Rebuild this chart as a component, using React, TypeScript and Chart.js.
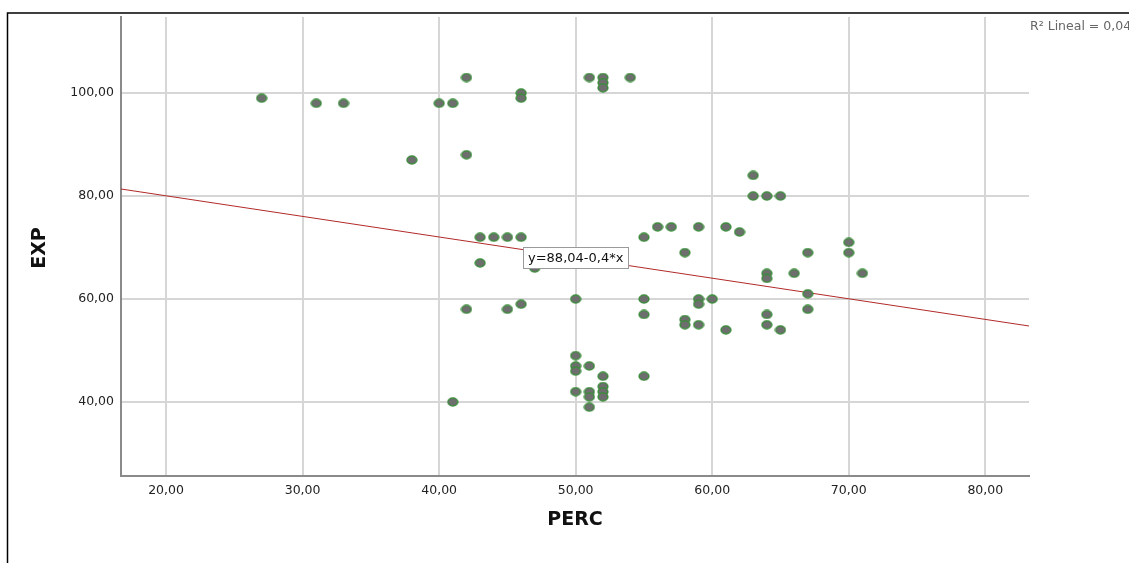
import React, { useEffect, useRef } from "react";
import { Chart, registerables } from "chart.js";

Chart.register(...registerables);

// PERC (x) and EXP (y) values of each case
const percValues = [
  27, 31, 33, 38, 40, 41, 42, 42, 46, 46, 51, 52, 52, 52, 54,
  63, 63, 64, 65, 55, 56, 57, 59, 61, 62, 58, 67, 70, 70, 64,
  64, 66, 71, 43, 44, 45, 46, 43, 47, 42, 45, 46, 50, 55, 55,
  59, 59, 60, 58, 58, 59, 61, 50, 50, 50, 51, 52, 55, 50, 51,
  51, 52, 52, 52, 51, 41, 67, 64, 67, 64, 65,
];
const expValues = [
  99, 98, 98, 87, 98, 98, 103, 88, 100, 99, 103, 103, 102, 101, 103,
  84, 80, 80, 80, 72, 74, 74, 74, 74, 73, 69, 69, 71, 69, 65,
  64, 65, 65, 72, 72, 72, 72, 67, 66, 58, 58, 59, 60, 60, 57,
  60, 59, 60, 56, 55, 55, 54, 49, 47, 46, 47, 45, 45, 42, 42,
  41, 43, 42, 41, 39, 40, 61, 57, 58, 55, 54,
];

// Linear fit (as printed on the chart)
const fitIntercept = 88.04;
const fitSlope = -0.4;
const fitLabel = "y=88,04-0,4*x";
const r2Label = "R² Lineal = 0,04";

// Axis ranges and tick values
const xRange = [16.7, 83.2];
const yRange = [25.63, 114.76];
const xTickValues = [20, 30, 40, 50, 60, 70, 80];
const yTickValues = [40, 60, 80, 100];
const xTitle = "PERC";
const yTitle = "EXP";

const fmt = (v: number) => v.toFixed(2).replace(".", ",");

function makeMarker(): HTMLCanvasElement {
  const c = document.createElement("canvas");
  c.width = 12;
  c.height = 10;
  const ctx = c.getContext("2d")!;
  ctx.beginPath();
  ctx.ellipse(6, 5, 4.9, 3.9, 0, 0, Math.PI * 2);
  ctx.fillStyle = "#6e6e6e";
  ctx.fill();
  ctx.lineWidth = 1.5;
  ctx.strokeStyle = "#3c8c3c";
  ctx.stroke();
  return c;
}

export default function App() {
  const ref = useRef<HTMLCanvasElement | null>(null);

  useEffect(() => {
    if (!ref.current) return;
    const marker = makeMarker();
    const points = percValues.map((x, i) => ({ x, y: expValues[i] }));
    const fitLine = xRange.map((x) => ({ x, y: fitIntercept + fitSlope * x }));

    const decor = {
      id: "decor",
      afterDatasetsDraw(chart: any) {
        const ctx = chart.ctx as CanvasRenderingContext2D;
        const xs = chart.scales.x;
        const ys = chart.scales.y;
        // equation box
        const cx = xs.getPixelForValue(50);
        const cy = ys.getPixelForValue(68);
        ctx.save();
        ctx.font = "13px 'DejaVu Sans'";
        const w = ctx.measureText(fitLabel).width + 10;
        const h = 21;
        const bx = Math.round(cx - w / 2) + 0.5;
        const by = Math.round(cy - h / 2) + 0.5;
        ctx.fillStyle = "#ffffff";
        ctx.fillRect(bx, by, Math.round(w), h);
        ctx.strokeStyle = "#9a9a9a";
        ctx.lineWidth = 1;
        ctx.strokeRect(bx, by, Math.round(w), h);
        ctx.fillStyle = "#111";
        ctx.textAlign = "center";
        ctx.textBaseline = "middle";
        ctx.fillText(fitLabel, cx, cy + 1);
        ctx.restore();
      },
      afterDraw(chart: any) {
        const ctx = chart.ctx as CanvasRenderingContext2D;
        ctx.save();
        // outer frame
        ctx.strokeStyle = "#000";
        ctx.lineWidth = 1.5;
        ctx.beginPath();
        ctx.moveTo(7.5, 600);
        ctx.lineTo(7.5, 13);
        ctx.lineTo(1200, 13);
        ctx.stroke();
        // axis titles
        ctx.fillStyle = "#111";
        ctx.font = "bold 19px 'DejaVu Sans'";
        ctx.textAlign = "center";
        ctx.textBaseline = "middle";
        ctx.fillText(xTitle, 575, 520);
        ctx.translate(40, 248);
        ctx.rotate(-Math.PI / 2);
        ctx.fillText(yTitle, 0, 0);
        ctx.restore();
        // R2 label
        ctx.save();
        ctx.fillStyle = "#666";
        ctx.font = "12.5px 'DejaVu Sans'";
        ctx.textAlign = "left";
        ctx.textBaseline = "middle";
        ctx.fillText(r2Label, 1030, 27);
        ctx.restore();
      },
    };

    const chart = new Chart(ref.current, {
      type: "scatter",
      data: {
        datasets: [
          {
            data: points,
            pointStyle: marker as any,
            pointRadius: 5,
            order: 1,
          },
          {
            data: fitLine,
            showLine: true,
            borderColor: "#b22a2a",
            borderWidth: 1,
            pointRadius: 0,
            order: 2,
          },
        ],
      },
      options: {
        animation: false,
        responsive: false,
        devicePixelRatio: 1,
        layout: { padding: { top: 17, right: 100, left: 0, bottom: 0 } },
        plugins: { legend: { display: false }, tooltip: { enabled: false } },
        scales: {
          x: {
            type: "linear",
            min: xRange[0],
            max: xRange[1],
            afterBuildTicks: (s: any) => {
              s.ticks = xTickValues.map((v) => ({ value: v }));
            },
            afterFit: (s: any) => {
              s.height = 87;
            },
            ticks: {
              callback: (v: any) => fmt(Number(v)),
              font: { family: "'DejaVu Sans'", size: 12.5 },
              color: "#222",
              padding: 7,
              maxRotation: 0,
            },
            grid: { color: "#d6d6d6", lineWidth: 2, drawTicks: false },
            border: { color: "#8a8a8a", width: 2 },
          },
          y: {
            type: "linear",
            min: yRange[0],
            max: yRange[1],
            afterBuildTicks: (s: any) => {
              s.ticks = yTickValues.map((v) => ({ value: v }));
            },
            afterFit: (s: any) => {
              s.width = 121;
            },
            ticks: {
              callback: (v: any) => fmt(Number(v)),
              font: { family: "'DejaVu Sans'", size: 12.5 },
              color: "#222",
              padding: 7,
            },
            grid: { color: "#d6d6d6", lineWidth: 2, drawTicks: false },
            border: { color: "#8a8a8a", width: 2 },
          },
        },
      },
      plugins: [decor],
    });
    return () => chart.destroy();
  }, []);

  return (
    <div style={{ position: "fixed", left: 0, top: 0, width: 1129, height: 563, background: "#fff" }}>
      <canvas ref={ref} width={1129} height={563} style={{ display: "block" }} />
    </div>
  );
}
